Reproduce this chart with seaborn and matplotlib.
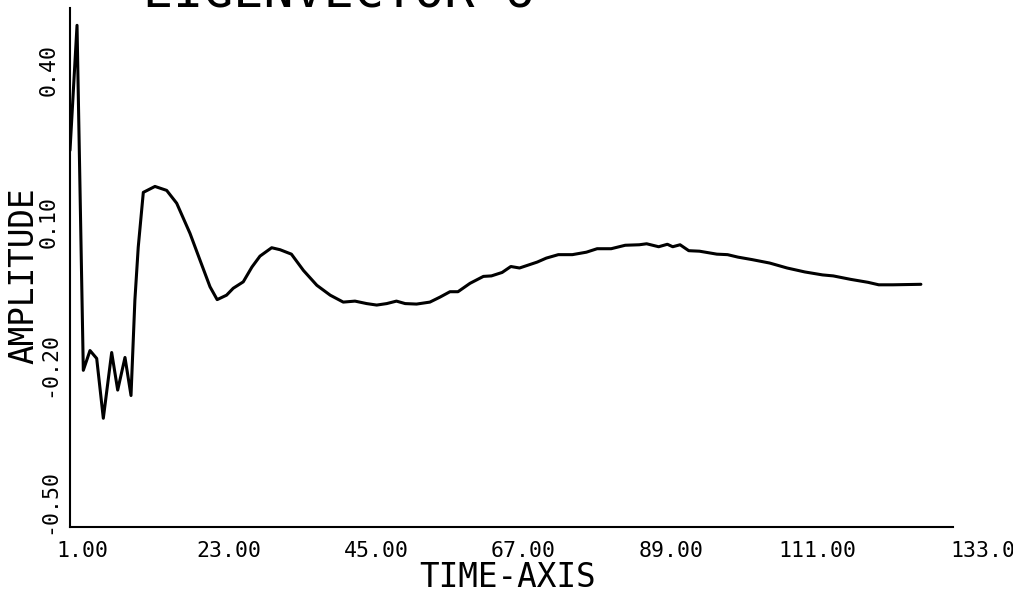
import matplotlib
matplotlib.use("Agg")
import matplotlib.pyplot as plt
import matplotlib.transforms as mtrans
import seaborn as sns
import pandas as pd

# ---- data ----
time_axis = [1.0, 2.05, 2.99, 3.99, 4.99, 5.98, 7.23, 8.13, 9.22, 10.12, 10.7, 11.2,
             11.96, 13.7, 15.45, 16.95, 18.94, 20.43, 21.93, 23.0, 24.4, 25.4, 26.9,
             28.2, 29.4, 31.15, 32.4, 34.1, 35.9, 37.9, 39.9, 41.85, 43.6, 45.35,
             46.85, 48.35, 49.8, 51.1, 52.8, 54.8, 56.3, 57.8, 59.0, 60.8, 62.8, 64.0,
             65.6, 66.9, 68.2, 70.85, 72.2, 74.0, 76.1, 78.2, 79.8, 81.9, 84.0, 86.1,
             87.2, 89.0, 90.3, 91.1, 92.2, 93.5, 95.1, 97.7, 99.3, 100.85, 102.95,
             105.6, 108.2, 110.85, 113.5, 115.1, 117.7, 120.3, 121.9, 124.0, 128.2]
amplitude = [0.262, 0.515, -0.183, -0.143, -0.159, -0.280, -0.147, -0.223, -0.157, -0.234,
             -0.041, 0.066, 0.177, 0.189, 0.181, 0.155, 0.094, 0.040, -0.014, -0.040,
             -0.031, -0.017, -0.004, 0.026, 0.048, 0.065, 0.061, 0.052, 0.019, -0.011,
             -0.031, -0.045, -0.043, -0.048, -0.051, -0.048, -0.043, -0.048, -0.049,
             -0.045, -0.035, -0.024, -0.024, -0.007, 0.007, 0.008, 0.015, 0.027, 0.024,
             0.036, 0.044, 0.051, 0.051, 0.056, 0.063, 0.063, 0.070, 0.071, 0.073, 0.067,
             0.072, 0.067, 0.071, 0.059, 0.058, 0.052, 0.051, 0.046, 0.041, 0.034, 0.024,
             0.016, 0.010, 0.008, 0.001, -0.005, -0.010, -0.010, -0.009]

x_ticks = [1, 23, 45, 67, 89, 111, 133]
x_tick_labels = ["1.00", "23.00", "45.00", "67.00", "89.00", "111.00", "133.0"]
y_ticks = [-0.50, -0.20, 0.10, 0.40]
y_tick_labels = ["-0.50", "-0.20", "0.10", "0.40"]
title_text = "EIGENVECTOR 6"
x_label = "TIME-AXIS"
y_label = "AMPLITUDE"

# ---- plotting ----
sns.set_style("white")
plt.rcParams["font.family"] = ["DejaVu Sans Mono", "DejaVu Sans"]

fig = plt.figure(figsize=(10.13, 5.93), dpi=100)
ax = fig.add_axes([70 / 1013, 1 - 527 / 593, 883 / 1013, (527 - 8) / 593])

df = pd.DataFrame({"t": time_axis, "amp": amplitude})
sns.lineplot(data=df, x="t", y="amp", sort=False, estimator=None,
             color="black", linewidth=2.2, ax=ax)

ax.set_xlim(1, 133)
ax.set_ylim(-0.50, 0.55)
for side in ("top", "right"):
    ax.spines[side].set_visible(False)
for side in ("left", "bottom"):
    ax.spines[side].set_color("black")
    ax.spines[side].set_linewidth(1.5)

ax.set_xticks(x_ticks, x_tick_labels)
ax.set_yticks(y_ticks, y_tick_labels)
ax.tick_params(axis="x", direction="in", length=7, width=1.4, pad=10,
               labelsize=15.5, colors="black")
ax.tick_params(axis="y", direction="out", length=10, width=1.4, pad=0,
               labelsize=15.5, colors="black")
for lab in ax.get_yticklabels():
    lab.set_rotation(90)
    lab.set_va("center")

dpi_tr = fig.dpi_scale_trans
for i, lab in enumerate(ax.get_xticklabels()):
    if i == len(x_ticks) - 1:
        lab.set_ha("left")
        dx = -3
    else:
        dx = 12
    lab.set_transform(lab.get_transform() + mtrans.ScaledTranslation(dx / 100, 0, dpi_tr))
y_shifts = [25, 14, 8, 12]
for lab, dy in zip(ax.get_yticklabels(), y_shifts):
    lab.set_transform(lab.get_transform() + mtrans.ScaledTranslation(3 / 100, dy / 100, dpi_tr))

ax.set_xlabel("")
ax.set_ylabel("")
fig.text(508 / 1013, 1 - 587 / 593, x_label, ha="center", va="baseline",
         fontsize=23.5, color="black")
fig.text(33 / 1013, 1 - 276 / 593, y_label, ha="center", va="baseline", rotation=90,
         fontsize=23.5, color="black", rotation_mode="anchor")
fig.text(143 / 1013, 1 - 8 / 593, title_text, ha="left", va="baseline",
         fontsize=36, color="black")

fig.savefig("out.png", dpi=100)
